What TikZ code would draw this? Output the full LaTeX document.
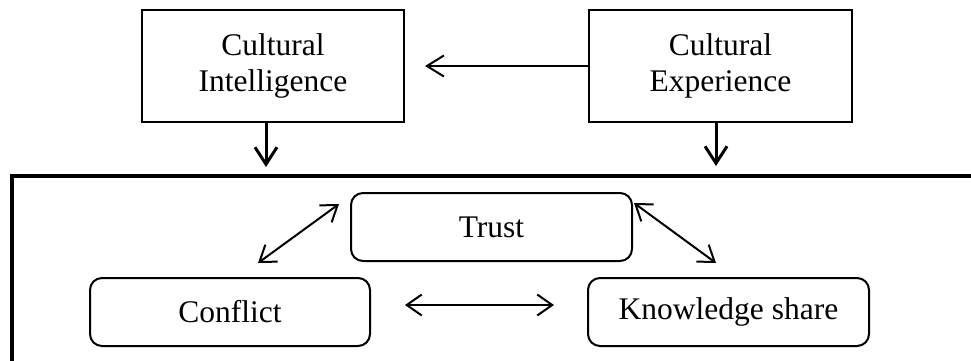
\documentclass[tikz,border=0pt]{standalone}
\usepackage{fontspec}
\setmainfont{Liberation Serif}
\usetikzlibrary{arrows.meta}
\begin{document}
\begin{tikzpicture}[x=1pt,y=-1pt,
  txt/.style={font=\fontsize{31.5}{36}\selectfont},
  sqbox/.style={txt,draw,line width=2pt,minimum width=262pt,minimum height=112pt,inner sep=0pt,align=center},
  rbox/.style={txt,draw,line width=2pt,rounded corners=12pt,minimum height=68pt,inner sep=0pt},
  flow/.style={line width=2pt,-{Straight Barb[length=17pt,width=21pt,line width=2pt]}},
  down/.style={line width=3pt,-{Straight Barb[length=17pt,width=22pt,line width=3pt]}},
  both/.style={line width=2pt,{Straight Barb[length=15pt,width=21pt,line width=2pt]}-{Straight Barb[length=15pt,width=21pt,line width=2pt]}},
  frame/.style={line width=4pt}]
\useasboundingbox (0,0) rectangle (971,360);
\clip (0,0) rectangle (971,360);
% top boxes
\node[sqbox] (ci) at (273,66) {Cultural\\Intelligence};
\node[sqbox,minimum width=263pt] (ce) at (720.5,66) {Cultural\\Experience};
% inner boxes
\node[rbox,minimum width=281pt] (trust) at (491.5,227) {Trust};
\node[rbox,minimum width=280pt] (conf) at (230,312) {Conflict};
\node[rbox,minimum width=281pt] (ks) at (728.5,312) {Knowledge share};
% outer frame
\draw[frame] (12,365) -- (12,176) -- (975,176);
% free ends
\coordinate (hl) at (425,66);
\coordinate (cid) at (266,167);
\coordinate (ced) at (716,166);
\coordinate (a1) at (258,263);
\coordinate (a2) at (339,204);
\coordinate (b1) at (634,203);
\coordinate (b2) at (716,263);
\coordinate (c1) at (405,305);
\coordinate (c2) at (554,305);
% connectors
\draw[flow] (ce.west) -- (hl);
\draw[down] ([xshift=-7pt]ci.south) -- (cid);
\draw[down] ([xshift=-4.5pt]ce.south) -- (ced);
\draw[both] (a1) -- (a2);
\draw[both] (b1) -- (b2);
\draw[both] (c1) -- (c2);
\end{tikzpicture}
\end{document}
